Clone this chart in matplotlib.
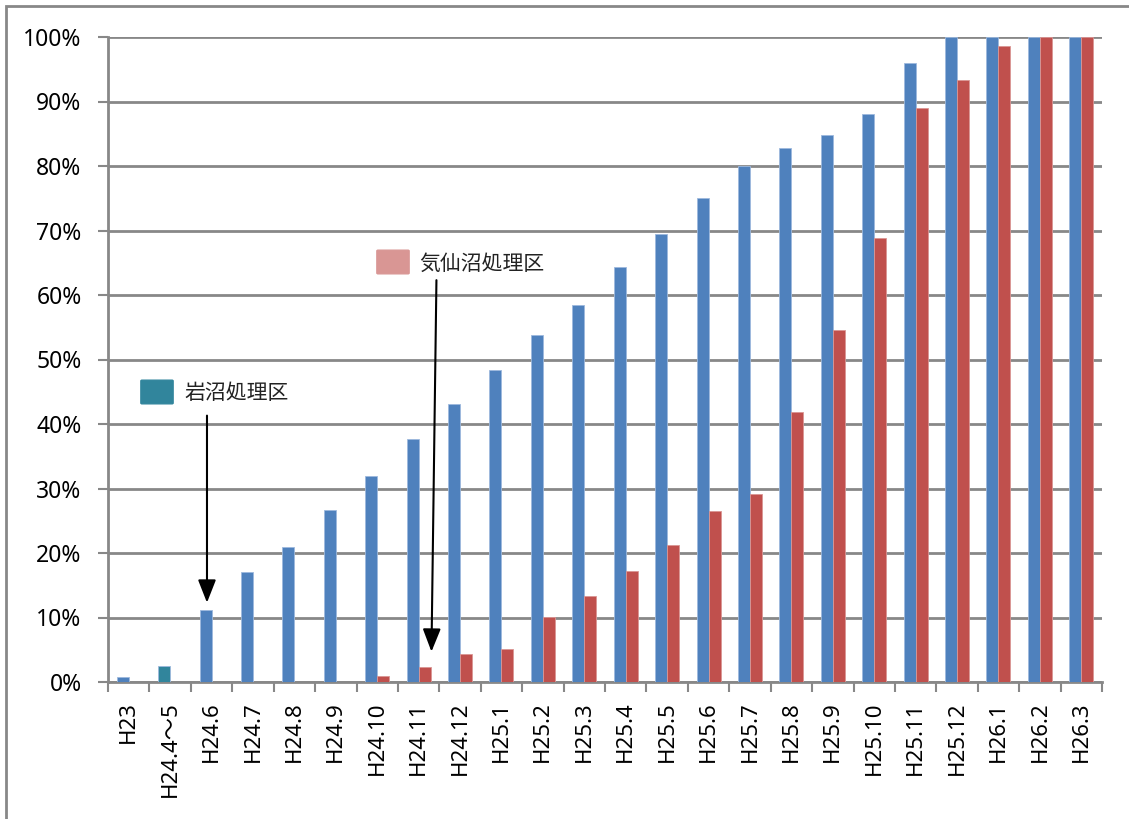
import numpy as np
import matplotlib.pyplot as plt
from matplotlib.patches import FancyBboxPatch, Rectangle

plt.rcParams['font.family'] = ['Noto Sans', 'Noto Sans CJK JP', 'DejaVu Sans']

categories = ['H23', 'H24.4～5', 'H24.6', 'H24.7', 'H24.8', 'H24.9', 'H24.10',
              'H24.11', 'H24.12', 'H25.1', 'H25.2', 'H25.3', 'H25.4', 'H25.5',
              'H25.6', 'H25.7', 'H25.8', 'H25.9', 'H25.10', 'H25.11', 'H25.12',
              'H26.1', 'H26.2', 'H26.3']
iwanuma = [0.8, 2.5, 11.1, 17.0, 21.0, 26.7, 32.0, 37.6, 43.1, 48.4, 53.8, 58.4,
           64.3, 69.4, 75.1, 80.0, 82.8, 84.8, 88.1, 96.0, 100, 100, 100, 100]
kesennuma = [0, 0, 0, 0, 0, 0, 0.9, 2.3, 4.3, 5.1, 10.1, 13.3, 17.2, 21.2,
             26.5, 29.1, 41.8, 54.5, 68.9, 89.0, 93.3, 98.6, 100, 100]

blue = '#4F81BD'
red = '#C0504D'
teal = '#31859C'
grid = '#888888'

W, H = 1129, 819
fig = plt.figure(figsize=(W / 100, H / 100), dpi=100)
ax = fig.add_axes([108 / W, 1 - 682 / H, (1102 - 108) / W, (682 - 37) / H])

def fx(x, y):
    return (x / W, 1 - y / H)

# outer chart frame (continues past the image edge)
fig.patches.append(Rectangle(fx(6, 900), 1.2, (900 - 6) / H, transform=fig.transFigure,
                             fill=False, edgecolor='#888888', lw=2))

x = np.arange(len(categories))
bw = 0.29
bcolors = [blue] * len(categories)
bcolors[1] = teal
ax.bar(x - bw / 2, iwanuma, bw, color=bcolors, edgecolor='#9DB9DD', lw=0.6, zorder=3)
ax.bar(x + bw / 2, kesennuma, bw, color=red, edgecolor='#DA9694', lw=0.6, zorder=3)

ax.set_xlim(-0.5, len(categories) - 0.5)
ax.set_ylim(0, 100)
ax.set_yticks(np.arange(0, 101, 10))
ax.set_yticklabels([f'{v}%' for v in range(0, 101, 10)], fontsize=16.5)
ax.yaxis.grid(True, color=grid, lw=2)
ax.set_axisbelow(True)

ax.set_xticks(np.arange(-0.5, len(categories), 1))
ax.set_xticklabels([])
ax.set_xticks(x, minor=True)
ax.set_xticklabels(categories, minor=True, rotation=90, fontsize=16)
ax.tick_params(axis='x', which='minor', length=0, pad=14)
ax.tick_params(axis='x', which='major', length=7, width=1.5, color=grid, direction='out')
ax.tick_params(axis='y', length=7, width=1.5, color=grid, pad=12)

for s in ['top', 'right']:
    ax.spines[s].set_visible(False)
for s in ['left', 'bottom']:
    ax.spines[s].set_color(grid)
    ax.spines[s].set_linewidth(2)

# annotations
arrow = dict(arrowstyle='-|>,head_length=1.4,head_width=0.55', color='black', lw=1.5,
             shrinkA=0, shrinkB=0)
ax.annotate('', xy=(1.89, 12.3), xytext=(1.89, 41.3), arrowprops=arrow)
ax.annotate('', xy=(7.31, 4.7), xytext=(7.43, 62.3), arrowprops=arrow)

fig.patches.append(FancyBboxPatch(fx(142, 403), 30 / W, 22 / H, transform=fig.transFigure,
                                  boxstyle='round,pad=0.001', color=teal))
fig.text(184 / W, 1 - 393 / H, '岩沼処理区', fontsize=15, va='center',
         family=['Noto Sans CJK JP'], color='#222222')
fig.patches.append(FancyBboxPatch(fx(378, 273), 30 / W, 22 / H, transform=fig.transFigure,
                                  boxstyle='round,pad=0.001', color='#D99694'))
fig.text(419 / W, 1 - 264 / H, '気仙沼処理区', fontsize=15, va='center',
         family=['Noto Sans CJK JP'], color='#222222')

fig.savefig('out.png', dpi=100)
